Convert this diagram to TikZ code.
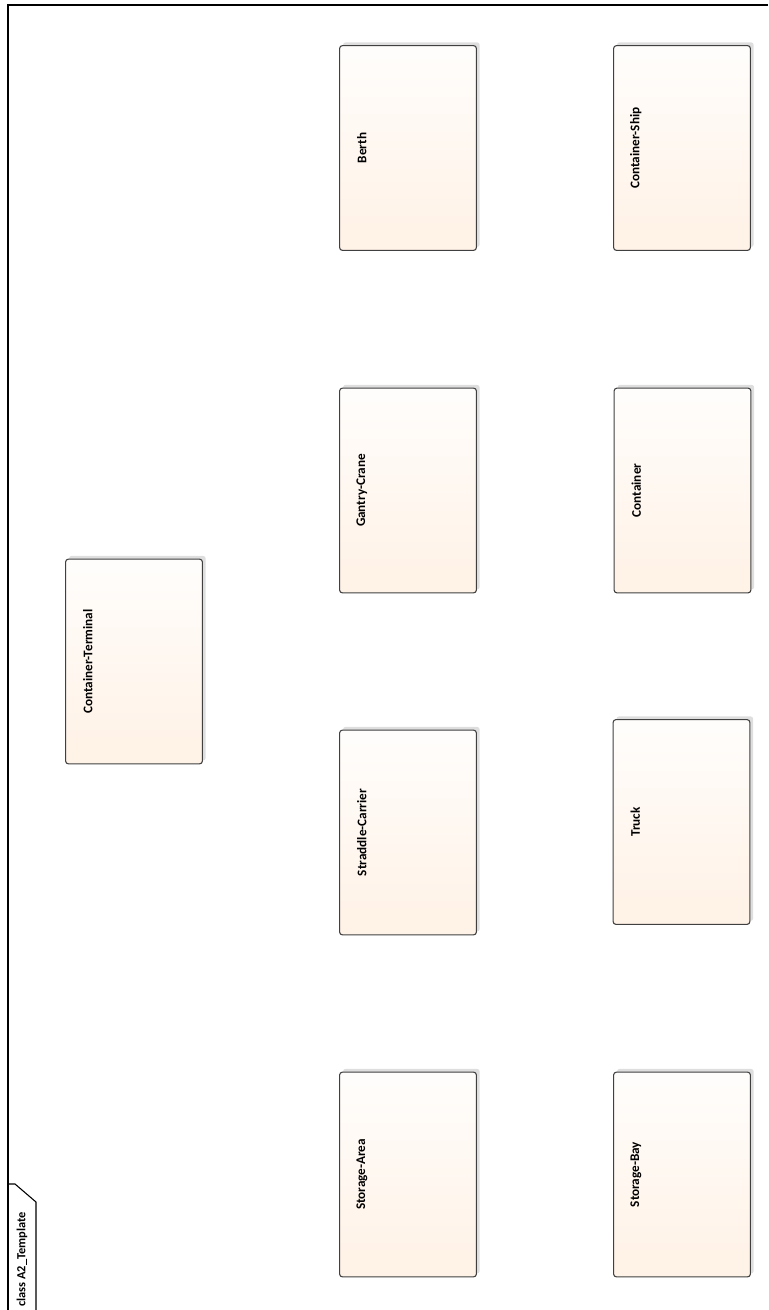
\documentclass[tikz,border=0pt]{standalone}
\usepackage{fontspec}
\newfontfamily\eafont{Carlito}
\usetikzlibrary{shadows}

\begin{document}
\begin{tikzpicture}[
  x=0.75pt, y=-0.75pt,
  every node/.style={font=\eafont},
  klasse/.style={rectangle, rounded corners=2pt, draw=black!75, line width=0.8pt,
    top color=white!60!orange!3, bottom color=red!6!orange!10!white,
    minimum width=102.5pt, minimum height=153.5pt, inner sep=0pt,
    drop shadow={shadow xshift=2.5pt, shadow yshift=2.5pt, fill=black!13, opacity=1}},
  klassname/.style={rotate=90, font=\eafont\bfseries\fontsize{9.9}{12}\selectfont, inner sep=0pt},
  rahmen/.style={draw=black, line width=0.8pt}]
\useasboundingbox (0,0) rectangle (768,1310);
\draw[rahmen] (768,5) -- (8,5) -- (8,1310);
\draw[rahmen] (8,1184) -- (15,1184) -- (36,1202) -- (36,1310);
\node[rotate=90, anchor=east, font=\eafont\bfseries\fontsize{9.3}{11}\selectfont, inner sep=0pt] (diagrammname) at (22,1212) {class A2\_Template};
\node[klasse] (berth) at (408,148) {};
\node[klasse] (ship) at (682,148) {};
\node[klasse] (crane) at (408,490.5) {};
\node[klasse] (container) at (682.5,490.5) {};
\node[klasse] (terminal) at (134,661.5) {};
\node[klasse] (carrier) at (408,832.5) {};
\node[klasse] (truck) at (681.5,822) {};
\node[klasse] (area) at (408,1174.5) {};
\node[klasse] (bay) at (682,1174.5) {};
\node[klassname] (berth-name) at ([xshift=17pt]berth.west) {Berth};
\node[klassname] (ship-name) at ([xshift=17pt]ship.west) {Container-Ship};
\node[klassname] (crane-name) at ([xshift=17pt]crane.west) {Gantry-Crane};
\node[klassname] (container-name) at ([xshift=17pt]container.west) {Container};
\node[klassname] (terminal-name) at ([xshift=17pt]terminal.west) {Container-Terminal};
\node[klassname] (carrier-name) at ([xshift=17pt]carrier.west) {Straddle-Carrier};
\node[klassname] (truck-name) at ([xshift=17pt]truck.west) {Truck};
\node[klassname] (area-name) at ([xshift=17pt]area.west) {Storage-Area};
\node[klassname] (bay-name) at ([xshift=17pt]bay.west) {Storage-Bay};
\end{tikzpicture}
\end{document}
